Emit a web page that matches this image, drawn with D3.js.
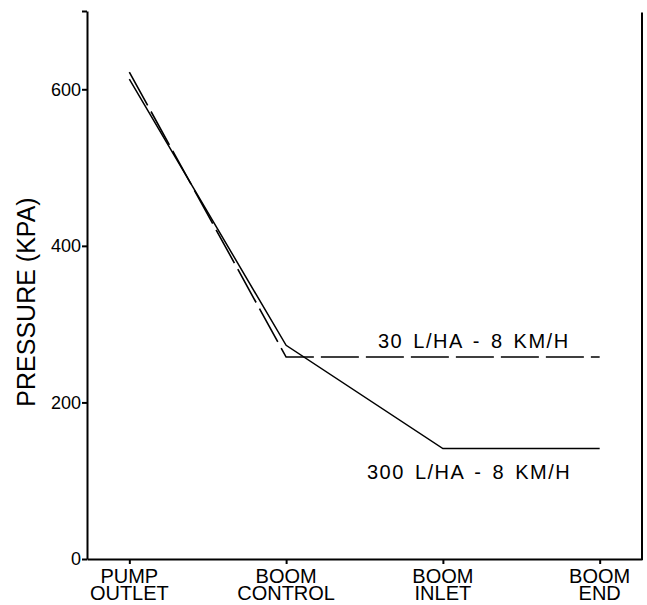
<!DOCTYPE html>
<html>
<head>
<meta charset="utf-8">
<script src="https://cdn.jsdelivr.net/npm/d3@7"></script>
<style>
  body { margin: 0; background: #fff; }
  svg { display: block; font-family: "Liberation Sans", Arial, sans-serif; }
  .axis path, .axis line { stroke: #000; stroke-width: 2; }
  .axis text { fill: #000; }
</style>
</head>
<body>
<svg id="chart" width="647" height="605"></svg>
<script>
"use strict";

// data
var categories = ["PUMP OUTLET", "BOOM CONTROL", "BOOM INLET", "BOOM END"];
var rate300 = [613, 273, 141, 141];   // solid line
var rate30 = [622, 258, 258, 258];    // dashed line
var yTicks = [0, 200, 400, 600, 700];
var seriesLabels = ["30 L/HA - 8 KM/H", "300 L/HA - 8 KM/H"];

var svg = d3.select('#chart');

var x = d3.scalePoint().domain(categories).range([87, 642]).padding(0.27);
var y = d3.scaleLinear().domain([0, 700]).range([559, 11]);

// left axis
var yAxis = d3.axisLeft(y)
    .tickValues(yTicks)
    .tickSize(5)
    .tickPadding(1)
    .tickSizeOuter(0)
    .tickFormat(function (d) { return d === 700 ? '' : d; });

svg.append('g')
    .attr('class', 'axis')
    .attr('transform', 'translate(87,0)')
    .call(yAxis)
    .call(function (g) {
      g.selectAll('text').attr('font-size', 18);
    });

// bottom axis
var xAxis = d3.axisBottom(x).tickSize(5).tickSizeOuter(0).tickFormat('');
svg.append('g')
    .attr('class', 'axis')
    .attr('transform', 'translate(0,559)')
    .call(xAxis);

// right frame line
svg.append('line')
    .attr('x1', 642).attr('x2', 642)
    .attr('y1', y(698)).attr('y2', y(0) + 1)
    .attr('stroke', '#000').attr('stroke-width', 2);

// category labels, two lines each
svg.selectAll('text.cat')
    .data(categories)
    .enter()
    .append('text')
    .attr('class', 'cat')
    .attr('text-anchor', 'middle')
    .attr('font-size', 20)
    .attr('y', 583)
    .each(function (d) {
      var words = d.split(' ');
      var t = d3.select(this);
      words.forEach(function (w, i) {
        t.append('tspan')
          .attr('x', x(d))
          .attr('dy', i === 0 ? 0 : 17)
          .text(w);
      });
    });

// y title
svg.append('text')
    .attr('transform', 'translate(35,302) rotate(-90)')
    .attr('text-anchor', 'middle')
    .attr('font-size', 25)
    .text('PRESSURE (KPA)');

var line = d3.line()
    .x(function (d, i) { return x(categories[i]); })
    .y(function (d) { return y(d); });

svg.append('path')
    .datum(rate300)
    .attr('d', line)
    .attr('fill', 'none')
    .attr('stroke', '#000')
    .attr('stroke-width', 1.5);

svg.append('path')
    .datum(rate30)
    .attr('d', line)
    .attr('fill', 'none')
    .attr('stroke', '#000')
    .attr('stroke-width', 1.6)
    .attr('stroke-dasharray', '38,7');

// series annotations
svg.append('text')
    .attr('x', 378).attr('y', y(rate30[3]) - 9)
    .attr('font-size', 20)
    .attr('letter-spacing', 1.5)
    .attr('word-spacing', 3)
    .text(seriesLabels[0]);

svg.append('text')
    .attr('x', 367).attr('y', y(rate300[3]) + 30)
    .attr('font-size', 20)
    .attr('letter-spacing', 1.5)
    .attr('word-spacing', 3)
    .text(seriesLabels[1]);
</script>
</body>
</html>
